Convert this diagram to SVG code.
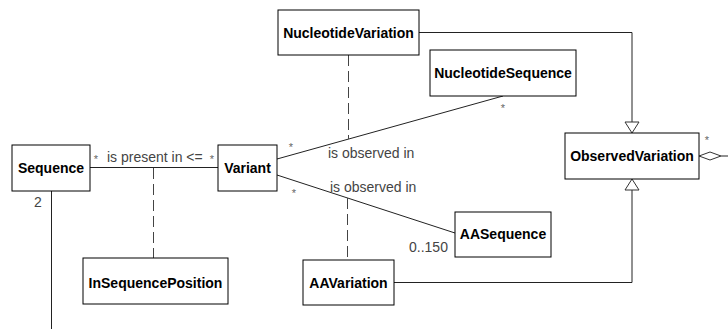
<svg xmlns="http://www.w3.org/2000/svg" width="728" height="329" viewBox="0 0 728 329">
<style>
.box{fill:#fff;stroke:#000;stroke-width:1}
.name{font-family:"Liberation Sans",Arial,sans-serif;font-weight:bold;font-size:14px;fill:#000;text-anchor:middle}
.lbl{font-family:"Liberation Sans",Arial,sans-serif;font-size:14px;fill:#444}
.star{font-family:"Liberation Sans",Arial,sans-serif;font-size:11px;fill:#666;text-anchor:middle}
.ln{fill:none;stroke:#222;stroke-width:1}
.dash{fill:none;stroke:#444;stroke-width:1;stroke-dasharray:11,5}
.head{fill:#fff;stroke:#333;stroke-width:1}
</style>
<rect width="728" height="329" fill="#fff"/>
<g id="connectors">
<line class="ln" x1="90" y1="167.5" x2="218" y2="167.5"/>
<line class="dash" x1="153.5" y1="168" x2="153.5" y2="258"/>
<line class="ln" x1="51.5" y1="191" x2="51.5" y2="329"/>
<line class="ln" x1="277" y1="159" x2="503" y2="96"/>
<line class="dash" x1="348.5" y1="55" x2="348.5" y2="139"/>
<line class="ln" x1="277" y1="175" x2="455" y2="233"/>
<line class="dash" x1="347.5" y1="198" x2="347.5" y2="260"/>
<polyline class="ln" points="419,32.5 632,32.5 632,122"/>
<polygon class="head" points="625,122 639,122 632,133"/>
<polyline class="ln" points="394,282.5 632,282.5 632,190"/>
<polygon class="head" points="625,190 639,190 632,179"/>
<polygon class="head" points="699,156 710,152 721,156 710,160"/>
<line class="ln" x1="721" y1="156" x2="728" y2="156"/>
<text class="lbl" x="107" y="162">is present in &lt;=</text>
<text class="star" x="96" y="163">*</text>
<text class="star" x="212" y="163">*</text>
<text class="star" x="291" y="151">*</text>
<text class="star" x="503" y="112">*</text>
<text class="lbl" x="328" y="158">is observed in</text>
<text class="star" x="294" y="197">*</text>
<text class="lbl" x="330" y="191.5">is observed in</text>
<text class="lbl" x="409" y="252">0..150</text>
<text class="lbl" x="34" y="207">2</text>
<text class="star" x="707" y="144">*</text>
</g>
<g id="Sequence"><rect class="box" x="12" y="145" width="78" height="46"/><text class="name" x="51" y="173">Sequence</text></g>
<g id="Variant"><rect class="box" x="218" y="145" width="59" height="46"/><text class="name" x="247.5" y="173">Variant</text></g>
<g id="InSequencePosition"><rect class="box" x="83" y="258" width="145" height="46"/><text class="name" x="155.5" y="288">InSequencePosition</text></g>
<g id="NucleotideVariation"><rect class="box" x="278" y="10" width="141" height="45"/><text class="name" x="348.5" y="38">NucleotideVariation</text></g>
<g id="NucleotideSequence"><rect class="box" x="430" y="50" width="146" height="46"/><text class="name" x="503" y="78">NucleotideSequence</text></g>
<g id="ObservedVariation"><rect class="box" x="565" y="133" width="134" height="46"/><text class="name" x="632" y="161">ObservedVariation</text></g>
<g id="AASequence"><rect class="box" x="455" y="212" width="96" height="45"/><text class="name" x="503" y="239">AASequence</text></g>
<g id="AAVariation"><rect class="box" x="303" y="260" width="91" height="45"/><text class="name" x="348.5" y="288">AAVariation</text></g>
</svg>
